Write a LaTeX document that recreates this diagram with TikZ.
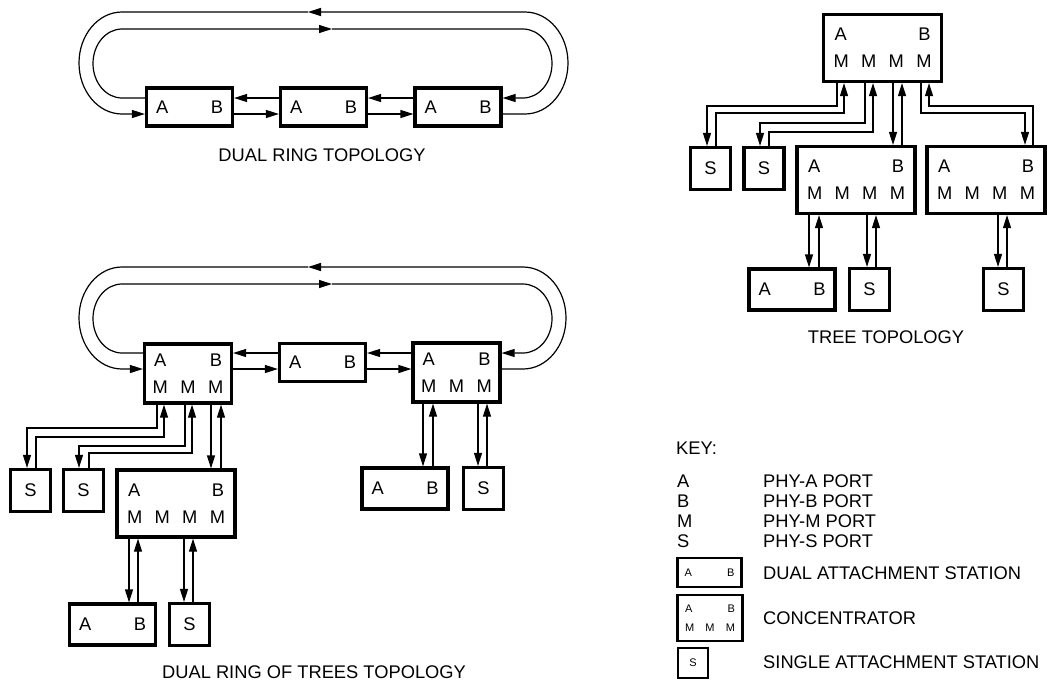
\documentclass[tikz,border=0pt]{standalone}
\usepackage{fontspec}
\setmainfont{Liberation Sans}
\usetikzlibrary{arrows.meta,positioning}
\tikzset{
  box/.style={rectangle, draw=black, line width=3.2pt, fill=white, inner sep=0pt,
              align=center, font=\fontsize{18.3}{21}\selectfont},
  dasbox/.style={box, minimum width=86pt, minimum height=38pt},
  leafdas/.style={box, minimum width=86pt, minimum height=41pt},
  concbox/.style={box, minimum width=87pt, minimum height=59pt},
  bigconc/.style={box, minimum width=118pt, minimum height=67pt},
  sasbox/.style={box, minimum width=40pt, minimum height=42pt},
  keybox/.style={box, line width=2.4pt, font=\fontsize{11}{13}\selectfont},
  flow/.style={-{Triangle[length=13pt,width=8pt]}, line width=1.2pt},
  toplbl/.style={font=\fontsize{18.3}{21}\selectfont, inner sep=0pt},
  keytxt/.style={toplbl, anchor=west}
}
\begin{document}
\begin{tikzpicture}[x=1pt, y=-1pt]
 \useasboundingbox (0,0) rectangle (1049,681);
 % dual ring
 \node[dasbox] (d1) at (189.5,107) {\makebox[67pt]{A\hfill B}};
 \node[dasbox] (d2) at (323.5,107) {\makebox[67pt]{A\hfill B}};
 \node[dasbox] (d3) at (458,107) {\makebox[67pt]{A\hfill B}};
 \node[toplbl] (t1) at (322,155) {DUAL RING TOPOLOGY};
 \draw[flow] (d3.east |- 0,114) -- (525,114) arc[start angle=90, end angle=-90, x radius=43, y radius=51] -- (308,12);
 \draw[flow] (308,12) -- (122,12) arc[start angle=-90, end angle=-270, x radius=43, y radius=51] -- (d1.west |- 0,114);
 \draw[flow] (d1.west |- 0,98) -- (122,98) arc[start angle=90, end angle=270, x radius=29, y radius=34.5] -- (332,29);
 \draw[flow] (332,29) -- (523,29) arc[start angle=-90, end angle=90, x radius=29, y radius=34.5] -- (d3.east |- 0,98);
 \draw[flow] (d1.east |- 0,114) -- (d2.west |- 0,114);
 \draw[flow] (d2.east |- 0,114) -- (d3.west |- 0,114);
 \draw[flow] (d2.west |- 0,98) -- (d1.east |- 0,98);
 \draw[flow] (d3.west |- 0,98) -- (d2.east |- 0,98);

 % dual ring of trees
 \node[concbox] (c1) at (188,373.5) {\makebox[68pt]{A\hfill B}\\[6pt]\makebox[71pt]{M\hfill M\hfill M}};
 \node[dasbox] (d4) at (322.5,362.5) {\makebox[67pt]{A\hfill B}};
 \node[concbox] (c2) at (456.5,372.5) {\makebox[68pt]{A\hfill B}\\[6pt]\makebox[71pt]{M\hfill M\hfill M}};
 \node[sasbox] (s1) at (30.5,490.5) {S};
 \node[sasbox] (s2) at (83.5,490.5) {S};
 \node[bigconc] (c3) at (176,503.5) {\makebox[96pt]{A\hfill B}\\[6pt]\makebox[98pt]{M\hfill M\hfill M\hfill M}};
 \node[leafdas] (d5) at (112.5,624.5) {\makebox[67pt]{A\hfill B}};
 \node[sasbox] (s3) at (189.5,624.5) {S};
 \node[leafdas] (d6) at (405,488.5) {\makebox[67pt]{A\hfill B}};
 \node[sasbox] (s4) at (483.5,488.5) {S};
 \node[toplbl] (t2) at (314,672) {DUAL RING OF TREES TOPOLOGY};
 \draw[flow] (c2.east |- 0,369) -- (523,369) arc[start angle=90, end angle=-90, x radius=43, y radius=51] -- (308,267);
 \draw[flow] (308,267) -- (122,267) arc[start angle=-90, end angle=-270, x radius=43, y radius=51] -- (c1.west |- 0,369);
 \draw[flow] (c1.west |- 0,353) -- (122,353) arc[start angle=90, end angle=270, x radius=29, y radius=34.5] -- (332,284);
 \draw[flow] (332,284) -- (523,284) arc[start angle=-90, end angle=90, x radius=29, y radius=34.5] -- (c2.east |- 0,353);
 \draw[flow] (c1.east |- 0,369) -- (d4.west |- 0,369);
 \draw[flow] (d4.east |- 0,369) -- (c2.west |- 0,369);
 \draw[flow] (d4.west |- 0,353) -- (c1.east |- 0,353);
 \draw[flow] (c2.west |- 0,353) -- (d4.east |- 0,353);
 \draw[flow] (c1.south -| 157,0) |- (27,428) -- (s1.north -| 27,0);
 \draw[flow] (s1.north -| 36,0) |- (164,437) -- (c1.south -| 164,0);
 \draw[flow] (c1.south -| 185,0) |- (79,446) -- (s2.north -| 79,0);
 \draw[flow] (s2.north -| 89,0) |- (192,453) -- (c1.south -| 192,0);
 \draw[flow] (c1.south -| 211,0) -- (c3.north -| 211,0);
 \draw[flow] (c3.north -| 221,0) -- (c1.south -| 221,0);
 \draw[flow] (c3.south -| 129,0) -- (d5.north -| 129,0);
 \draw[flow] (d5.north -| 138,0) -- (c3.south -| 138,0);
 \draw[flow] (c3.south -| 184,0) -- (s3.north -| 184,0);
 \draw[flow] (s3.north -| 193,0) -- (c3.south -| 193,0);
 \draw[flow] (c2.south -| 423,0) -- (d6.north -| 423,0);
 \draw[flow] (d6.north -| 433,0) -- (c2.south -| 433,0);
 \draw[flow] (c2.south -| 478,0) -- (s4.north -| 478,0);
 \draw[flow] (s4.north -| 487,0) -- (c2.south -| 487,0);

 % tree
 \node[bigconc] (r) at (882.5,48) {\makebox[96pt]{A\hfill B}\\[6pt]\makebox[98pt]{M\hfill M\hfill M\hfill M}};
 \node[sasbox] (sa) at (710.5,168.5) {S};
 \node[sasbox] (sb) at (764,168.5) {S};
 \node[bigconc] (tb) at (856,180) {\makebox[96pt]{A\hfill B}\\[6pt]\makebox[98pt]{M\hfill M\hfill M\hfill M}};
 \node[bigconc] (tc) at (986,180) {\makebox[96pt]{A\hfill B}\\[6pt]\makebox[98pt]{M\hfill M\hfill M\hfill M}};
 \node[leafdas] (dt) at (792,289.5) {\makebox[67pt]{A\hfill B}};
 \node[sasbox] (sc) at (869.5,289.5) {S};
 \node[sasbox] (sd) at (1003.5,289.5) {S};
 \node[toplbl] (t3) at (886,337) {TREE TOPOLOGY};
 \draw[flow] (r.south -| 837,0) |- (707,106) -- (sa.north -| 707,0);
 \draw[flow] (sa.north -| 716,0) |- (844,113) -- (r.south -| 844,0);
 \draw[flow] (r.south -| 865,0) |- (760,123) -- (sb.north -| 760,0);
 \draw[flow] (sb.north -| 769,0) |- (873,132) -- (r.south -| 873,0);
 \draw[flow] (r.south -| 893,0) -- (tb.north -| 893,0);
 \draw[flow] (tb.north -| 902,0) -- (r.south -| 902,0);
 \draw[flow] (r.south -| 921,0) |- (1025,113) -- (tc.north -| 1025,0);
 \draw[flow] (tc.north -| 1033,0) |- (929,106) -- (r.south -| 929,0);
 \draw[flow] (tb.south -| 809,0) -- (dt.north -| 809,0);
 \draw[flow] (dt.north -| 819,0) -- (tb.south -| 819,0);
 \draw[flow] (tb.south -| 867,0) -- (sc.north -| 867,0);
 \draw[flow] (sc.north -| 876,0) -- (tb.south -| 876,0);
 \draw[flow] (tc.south -| 998,0) -- (sd.north -| 998,0);
 \draw[flow] (sd.north -| 1007,0) -- (tc.south -| 1007,0);

 % key
 \node[keytxt] (key) at (676,448) {KEY:};
 \node[keytxt] (ka) at (677,481) {A};
 \node[keytxt] (kb) at (677,501) {B};
 \node[keytxt] (km) at (677,521) {M};
 \node[keytxt] (ks) at (677,541) {S};
 \node[keytxt] (kat) at (763,481) {PHY-A PORT};
 \node[keytxt] (kbt) at (763,501) {PHY-B PORT};
 \node[keytxt] (kmt) at (763,521) {PHY-M PORT};
 \node[keytxt] (kst) at (763,541) {PHY-S PORT};
 \node[keybox, minimum width=64pt, minimum height=29pt] (kd) at (709.5,572.5) {\makebox[50pt]{A\hfill B}};
 \node[keybox, minimum width=65pt, minimum height=46pt] (kc) at (710,618) {\makebox[50pt]{A\hfill B}\\[6pt]\makebox[50pt]{M\hfill M\hfill M}};
 \node[keybox, minimum width=30pt, minimum height=30pt] (kss) at (693,663) {S};
 \node[keytxt] (kdt) at (763,573) {DUAL ATTACHMENT STATION};
 \node[keytxt] (kct) at (763,618) {CONCENTRATOR};
 \node[keytxt] (ksst) at (763,662) {SINGLE ATTACHMENT STATION};
\end{tikzpicture}
\end{document}
